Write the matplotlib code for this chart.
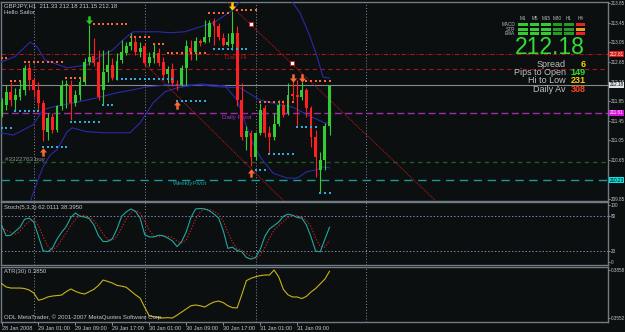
import matplotlib
matplotlib.use("Agg")
import matplotlib.pyplot as plt
import matplotlib.transforms as mtransforms
from matplotlib.path import Path
from matplotlib.patches import Rectangle
import numpy as np

plt.rcParams['font.family'] = ['Liberation Sans', 'DejaVu Sans']

# GBPJPY H1 candles, first bar = 28 Jan 2008 17:00
opens = [211.56, 211.77, 212.04, 211.87, 211.93, 212.08, 212.52, 212.28, 212.08, 211.80,
         211.22, 211.53, 211.26, 211.74, 212.16, 212.18, 211.80, 211.98, 212.25, 212.64,
         212.78, 212.66, 212.08, 212.45, 212.59, 212.32, 212.69, 212.84, 212.97, 213.07,
         212.86, 212.97, 212.63, 212.73, 212.84, 212.66, 212.41, 212.50, 212.20, 212.18,
         212.52, 212.93, 212.85, 213.08, 213.07, 213.16, 213.50, 213.38, 213.15, 213.00,
         213.01, 213.24, 211.87, 211.12, 211.19, 210.71, 211.19, 211.70, 211.19, 211.12,
         211.38, 211.77, 211.60, 212.00, 211.98, 211.94, 212.08, 211.70, 211.12, 210.44,
         210.64, 211.33]
highs = [211.91, 212.18, 212.25, 212.11, 212.28, 212.59, 212.63, 212.35, 212.25, 211.87,
         211.60, 211.60, 211.77, 212.28, 212.28, 212.28, 212.08, 212.32, 212.73, 213.41,
         213.14, 212.90, 212.90, 212.90, 212.73, 212.83, 213.10, 213.07, 213.24, 213.17,
         213.07, 213.03, 212.86, 213.03, 212.93, 212.76, 212.56, 212.63, 212.28, 212.59,
         213.10, 213.10, 213.17, 213.12, 213.51, 213.51, 213.55, 213.45, 213.24, 213.24,
         213.70, 213.38, 212.21, 211.33, 211.26, 211.22, 211.80, 211.77, 211.33, 211.60,
         211.87, 211.87, 212.21, 212.28, 212.28, 212.25, 212.11, 211.74, 211.26, 210.81,
         211.39, 212.18]
lows = [211.53, 211.67, 211.74, 211.67, 211.87, 211.98, 212.08, 211.94, 211.67, 211.02,
        211.05, 211.19, 211.22, 211.67, 211.70, 211.46, 211.74, 211.87, 212.18, 212.59,
        212.56, 211.87, 211.77, 212.25, 212.28, 212.28, 212.63, 212.80, 212.90, 212.80,
        212.76, 212.56, 212.56, 212.63, 212.56, 212.28, 212.21, 212.15, 212.08, 212.15,
        212.18, 212.69, 212.69, 212.98, 213.03, 213.07, 213.00, 213.10, 212.97, 212.97,
        212.90, 211.74, 211.05, 210.85, 210.51, 210.64, 211.15, 211.12, 210.78, 211.05,
        211.33, 211.53, 211.56, 211.87, 211.33, 211.87, 211.53, 210.91, 210.30, 209.96,
        210.44, 211.15]
closes = [211.84, 212.04, 211.87, 211.98, 212.09, 212.52, 212.28, 212.08, 211.80, 211.26,
          211.50, 211.26, 211.74, 212.18, 212.20, 211.80, 211.98, 212.25, 212.66, 212.76,
          212.63, 211.94, 212.45, 212.59, 212.32, 212.68, 212.86, 212.97, 213.05, 212.86,
          212.93, 212.63, 212.76, 212.86, 212.63, 212.39, 212.51, 212.21, 212.16, 212.52,
          212.97, 212.86, 213.08, 213.03, 213.17, 213.45, 213.39, 213.16, 213.00, 213.05,
          213.24, 211.87, 211.12, 211.24, 210.71, 211.19, 211.67, 211.19, 211.11, 211.38,
          211.77, 211.56, 211.98, 211.96, 211.94, 212.08, 211.70, 211.12, 210.71, 210.64,
          211.33, 212.18]

time_ticks = [0, 8, 16, 24, 32, 40, 48, 56, 64]
time_labels = ["28 Jan 2008", "29 Jan 01:00", "29 Jan 09:00", "29 Jan 17:00", "30 Jan 01:00",
               "30 Jan 09:00", "30 Jan 17:00", "31 Jan 01:00", "31 Jan 09:00"]
day_breaks = [7, 31, 55, 79]

# bands (bar, price)
upper_x = [0, 2.9, 6.2, 7.7, 9.4, 14.2, 18.5, 21.3, 24.1, 26.3, 28.5, 33.7, 36.5, 39.7, 43, 46.2,
           49.5, 51.6, 54.4, 58.8, 61.8, 62.9, 64.6, 66.8, 68.3, 69.6, 71]
upper_y = [212.65, 212.76, 213.06, 212.96, 212.69, 212.53, 212.59, 212.76, 212.90, 213.10, 213.27,
           213.27, 213.25, 213.27, 213.37, 213.47, 213.68, 213.88, 214.09, 214.17, 214.03, 213.88,
           213.66, 213.17, 212.76, 212.34, 212.32]
mid_x = [0, 2.5, 6.8, 9.0, 11.1, 15.5, 18.5, 21.3, 25.0, 28.5, 31.5, 35.8, 43.0, 47.3, 51.6, 56.0,
         60.3, 62.9, 67.2, 70.0, 71]
mid_y = [211.20, 211.15, 211.36, 211.67, 211.73, 211.81, 211.87, 211.93, 212.02, 212.08, 212.14,
         212.18, 212.18, 212.14, 212.12, 211.87, 211.77, 211.73, 211.52, 211.40, 211.40]
lower_x = [5, 6.2, 7.7, 9.0, 10.5, 12.0, 14.2, 15.3, 18.5, 22.0, 27.8, 30.0, 32.8, 35.4, 38.0, 43.0,
           48.4, 51.0, 53.1, 54.4, 56.0, 58.8, 61.8, 64.0, 66.1, 68.3, 69.4, 71]
lower_y = [209.50, 209.78, 210.19, 210.50, 210.74, 210.85, 211.22, 211.30, 211.22, 211.20, 211.20,
           211.40, 211.81, 212.04, 212.12, 212.20, 212.16, 211.87, 211.32, 210.99, 210.70, 210.37,
           210.27, 210.27, 210.40, 210.44, 210.50, 210.48]

# dotted support / resistance runs: (first bar, last bar, price)
res_dots = [(0, 1, 212.73), (2, 4, 212.26), (5, 13, 212.65), (14, 18, 212.32), (20, 27, 213.43),
            (28, 32, 213.16), (33, 35, 213.02), (36, 44, 212.84), (45, 49, 213.66), (51, 55, 213.72),
            (56, 63, 211.83), (66, 71, 212.26)]
sup_dots = [(0, 2, 211.30), (3, 8, 211.65), (9, 14, 210.91), (15, 21, 211.42), (22, 24, 211.77),
            (25, 37, 212.30), (38, 44, 211.85), (46, 53, 212.92), (55, 57, 210.44), (58, 63, 210.77),
            (64, 68, 211.32), (69, 71, 209.96)]

# signal arrows (bar, price, colour)
down_arrows = [(19, 213.52, "#22cc22"), (50, 213.80, "#ffcc00"), (63, 212.33, "#ff6633"), (65, 212.33, "#ff6633")]
up_arrows = [(9, 210.81, "#ff6633"), (38, 211.77, "#ff6633"), (54, 210.37, "#ff6633")]

# trend lines
trend1_x = [30.6, 61.1]
trend1_y = [212.65, 209.80]
trend2_x = [48.8, 93.8]
trend2_y = [213.88, 209.82]
trend2_anchor_x = [54.0, 62.9]
trend2_anchor_y = [213.43, 212.63]

# stochastic (5,3,3)
stoch_main = [65, 46, 47, 54, 61, 75, 77, 70, 45, 20, 18, 24, 40, 52, 62, 78, 86, 80, 79, 76,
              65, 46, 36, 36, 41, 58, 80, 88, 93, 89, 77, 48, 44, 44, 47, 46, 42, 37, 27, 36,
              53, 78, 93, 94, 93, 90, 84, 77, 55, 24, 26, 20, 18, 8, 5, 8, 22, 45, 58, 64,
              70, 80, 84, 82, 78, 77, 65, 44, 19, 18, 40, 61]
stoch_signal = [60, 56, 52, 49, 54, 64, 71, 75, 64, 45, 28, 21, 27, 39, 51, 64, 75, 81, 82, 78,
                73, 62, 49, 39, 38, 45, 60, 75, 87, 90, 86, 71, 56, 45, 45, 46, 45, 43, 37, 33,
                39, 56, 75, 88, 93, 92, 89, 84, 72, 52, 35, 23, 21, 15, 10, 7, 12, 25, 42, 56,
                64, 71, 78, 82, 81, 79, 73, 62, 42, 27, 26, 38]

# ATR(30)
atr = [0.3772, 0.3750, 0.3743, 0.3743, 0.3743, 0.3740, 0.3730, 0.3711, 0.3665, 0.3673,
       0.3686, 0.3692, 0.3695, 0.3698, 0.3720, 0.3737, 0.3722, 0.3711, 0.3705, 0.3720,
       0.3735, 0.3760, 0.3794, 0.3785, 0.3775, 0.3760, 0.3755, 0.3748, 0.3724, 0.3700,
       0.3679, 0.3620, 0.3565, 0.3560, 0.3555, 0.3552, 0.3554, 0.3552, 0.3570, 0.3590,
       0.3610, 0.3630, 0.3635, 0.3630, 0.3622, 0.3640, 0.3654, 0.3660, 0.3650, 0.3630,
       0.3618, 0.3616, 0.3700, 0.3790, 0.3805, 0.3815, 0.3822, 0.3826, 0.3826, 0.3858,
       0.3815, 0.3735, 0.3700, 0.3686, 0.3686, 0.3676, 0.3690, 0.3718, 0.3740, 0.3770,
       0.3800, 0.3850]

price_ticks = [213.85, 213.45, 213.05, 212.65, 212.25, 211.85, 211.45, 211.05, 210.65, 210.25, 209.85]

# info panel
timeframes = ["M1", "M5", "M15", "M30", "H1", "H4"]
matrix_rows = ["MACD", "STR", "EMA"]
matrix_state = [[1, 1, 1], [1, 1, 1], [1, 1, 1], [2, 2, 2], [2, 2, 2], [-1, 0, -1]]
info_labels = ["Spread", "Pips to Open", "Hi to Low", "Daily Av"]
info_values = ["6", "149", "231", "308"]
info_colors = ["#ffcc00", "#33dd33", "#ffcc00", "#ff4422"]
bid = 212.18

BG = "#0b0f10"
FRAME = "#6f7c85"
LIGHT = "#c4c8cc"
GREEN = "#33cc33"
RED = "#ff2020"
W, H = 625, 332

fig = plt.figure(figsize=(W / 100, H / 100), dpi=100, facecolor=BG)


def fbox(x0, y0, x1, y1):
    return [x0 / W, 1 - y1 / H, (x1 - x0) / W, (y1 - y0) / H]


ax = fig.add_axes(fbox(1, 2, 608, 201))
ax_st = fig.add_axes(fbox(1, 202, 608, 265), sharex=ax)
ax_atr = fig.add_axes(fbox(1, 267, 608, 322), sharex=ax)

for a in (ax, ax_st, ax_atr):
    a.set_facecolor(BG)
    for s in a.spines.values():
        s.set_color(FRAME)
        s.set_linewidth(1)
    a.yaxis.tick_right()
    a.tick_params(axis='y', labelsize=3.3, colors=LIGHT, length=1.5, width=0.5, pad=0.6)
    a.tick_params(axis='x', length=0)
    for d in day_breaks:
        a.axvline(d, color="#8a8aaa", ls=(0, (1, 2)), lw=0.7, zorder=1)

ax.set_xlim(-0.11, 131.28)
ax.set_ylim(209.80, 213.88)
ax_st.set_ylim(-5.26, 105.26)
ax_atr.set_ylim(0.35265, 0.38771)
plt.setp(ax.get_xticklabels(), visible=False)
plt.setp(ax_st.get_xticklabels(), visible=False)

# ---- main chart
ax.set_yticks(price_ticks)
ax.set_yticklabels([f"{p:.2f}" for p in price_ticks])

ax.axhline(212.81, color="#aa1515", ls=(0, (4, 1.5, 1, 1.5)), lw=0.8, zorder=2)
ax.axhline(212.50, color="#aa1515", ls=(0, (4, 3)), lw=0.8, zorder=2)
ax.axhline(211.61, color="#a02aa8", ls=(0, (5, 2.5)), lw=1.0, zorder=2)
ax.axhline(210.60, color="#1e5e1e", ls=(0, (3, 3)), lw=1.0, zorder=2)
ax.axhline(210.23, color="#1a9a9a", ls=(0, (6, 4)), lw=1.0, zorder=2)
ax.axhline(bid, color="#8a8a8a", lw=0.8, zorder=2)

ax.plot(upper_x, upper_y, color="#2a2aa8", lw=0.8, zorder=3)
ax.plot(mid_x, mid_y, color="#2a2aa8", lw=0.8, zorder=3)
ax.plot(lower_x, lower_y, color="#2a2aa8", lw=0.8, zorder=3)

ax.plot(trend1_x, trend1_y, color="#cc1515", ls=(0, (1, 1)), lw=0.7, zorder=3)
ax.plot(trend2_x, trend2_y, color="#cc1515", ls=(0, (1, 1)), lw=0.7, zorder=3)
ax.plot(trend2_anchor_x, trend2_anchor_y, 's', ms=2.2, mfc="white", mec="#cc1515", mew=0.6, zorder=6)

x = np.arange(len(opens))
o, hi, lo, c = (np.array(v) for v in (opens, highs, lows, closes))
col = np.where(c >= o, GREEN, RED)
ax.vlines(x, lo, hi, colors=col, lw=0.8, zorder=4)
ax.bar(x, np.maximum(np.abs(c - o), 0.015), bottom=np.minimum(o, c), width=0.62,
       color=col, lw=0, zorder=5)

for a0, b0, p in res_dots:
    n = b0 - a0 + 1
    ax.plot(range(a0, b0 + 1), [p] * n, 's', ms=1.5, mew=0, color="#ff6633", zorder=6)
for a0, b0, p in sup_dots:
    n = b0 - a0 + 1
    ax.plot(range(a0, b0 + 1), [p] * n, 's', ms=1.5, mew=0, color="#33aadd", zorder=6)

down_path = Path([(-0.3, 1), (0.3, 1), (0.3, 0), (0.85, 0), (0, -1), (-0.85, 0), (-0.3, 0), (-0.3, 1)],
                 [Path.MOVETO] + [Path.LINETO] * 6 + [Path.CLOSEPOLY])
up_path = Path([(vx, -vy) for vx, vy in down_path.vertices], down_path.codes)
for b, p, cc in down_arrows:
    ax.plot(b, p, marker=down_path, ms=6, color=cc, mew=0, zorder=7)
for b, p, cc in up_arrows:
    ax.plot(b, p, marker=up_path, ms=6, color=cc, mew=0, zorder=7)

ax.text(48.4, 212.74, "Daily Hi", color="#aa1515", fontsize=4.5, va='center', zorder=2)
ax.text(47.7, 211.52, "Daily Pivot", color="#b02ad0", fontsize=4.5, va='center', zorder=2)
ax.text(37.2, 210.15, "WeeklyPivot", color="#1aa0a0", fontsize=4.5, va='center', zorder=2)
ax.text(0.8, 210.66, "#3322763 buy", color="#909a90", fontsize=4.5, va='center', zorder=2)

trans = mtransforms.blended_transform_factory(ax.transAxes, ax.transData)
for p, fc, tc in [(212.81, "#dd1111", "white"), (bid, "#dfe4e8", "black"),
                  (211.61, "#dd11dd", "white"), (210.23, "#11e0e0", "black")]:
    ax.text(1.0025, p, f"{p:.2f}", transform=trans, fontsize=3.3, color=tc, va='center', ha='left',
            bbox=dict(boxstyle='square,pad=0.15', fc=fc, ec='none'), clip_on=False, zorder=10)

# ---- stochastic
ax_st.set_yticks([100, 80, 20, 0])
ax_st.set_yticklabels(["100", "80", "20", "0"])
for lvl in (80, 20):
    ax_st.axhline(lvl, color="#8282b8", ls=(0, (1.5, 2)), lw=0.7, zorder=1)
ax_st.plot(x, stoch_signal, color="#cc2020", ls=(0, (1.2, 1.5)), lw=0.8, zorder=3)
ax_st.plot(x, stoch_main, color="#20a8a0", lw=0.8, zorder=4)

# ---- ATR
ax_atr.set_yticks([0.3858, 0.3552])
ax_atr.set_yticklabels(["0.3858", "0.3552"])
ax_atr.plot(x, atr, color="#c8b418", lw=0.8, zorder=3)
ax_atr.set_xticks(time_ticks)
ax_atr.set_xticklabels(time_labels)
ax_atr.tick_params(axis='x', labelsize=4, colors=LIGHT, length=2, width=0.5, pad=1)
for t in ax_atr.get_xticklabels():
    t.set_ha('left')


def ftext(px, py, s, **kw):
    fig.text(px / W, 1 - py / H, s, **kw)


ftext(4, 5.5, "GBPJPY,H1  211.33 212.18 211.15 212.18", color=LIGHT, fontsize=4.3, va='center')
ftext(4, 12.5, "Hello Sailor", color=LIGHT, fontsize=4.3, va='center')
ftext(4, 207.5, "Stoch(5,3,3) 62.0111 38.3950", color=LIGHT, fontsize=4.3, va='center')
ftext(4, 272, "ATR(30) 0.3850", color=LIGHT, fontsize=4.3, va='center')
ftext(4, 317, "ODL MetaTrader, \u00a9 2001-2007 MetaQuotes Software Corp.", color=LIGHT, fontsize=4.3, va='center')

# signal matrix
col_left = [518, 529.5, 541, 552.5, 564, 575.5]
row_top = [23.3, 27.7, 32.0]
state_color = {1: "#33cc33", 2: "#249c24", 0: "#ee9a22", -1: "#ee2222"}
for j, tf in enumerate(timeframes):
    ftext(col_left[j] + 5, 18.3, tf, color="#b8bcc0", fontsize=3.3, ha='center', va='center')
    for k in range(len(matrix_rows)):
        fig.add_artist(Rectangle((col_left[j] / W, 1 - (row_top[k] + 2.8) / H), 9.6 / W, 2.8 / H,
                                 transform=fig.transFigure, fc=state_color[matrix_state[j][k]],
                                 ec='none', zorder=8))
for k, name in enumerate(matrix_rows):
    ftext(515, row_top[k] + 1.4, name, color="#b8bcc0", fontsize=3.3, ha='right', va='center')

ftext(550, 47.5, f"{bid:.2f}", color="#33dd33", fontsize=16.5, ha='center', va='center')
for k, (lab, val, vc) in enumerate(zip(info_labels, info_values, info_colors)):
    yy = 64.7 + k * 8.1
    ftext(565.5, yy, lab, color="#c0c0c0", fontsize=6.5, ha='right', va='center')
    ftext(585.5, yy, val, color=vc, fontsize=6.5, fontweight='bold', ha='right', va='center')

fig.savefig("out.png", dpi=100, facecolor=BG)
